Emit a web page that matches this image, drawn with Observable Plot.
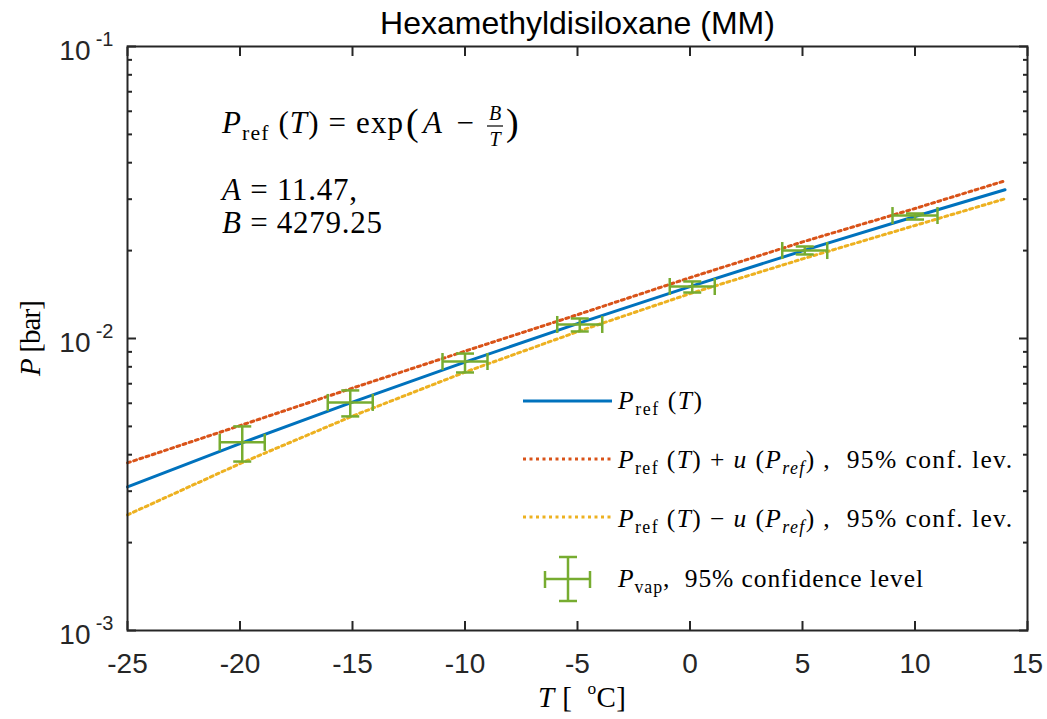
<!DOCTYPE html>
<html><head><meta charset="utf-8">
<script src="https://cdn.jsdelivr.net/npm/d3@7"></script>
<script src="https://cdn.jsdelivr.net/npm/@observablehq/plot@0.6"></script>
<style>body{margin:0;background:#fff}</style>
</head><body><div id="chart"></div>
<script>
const chartTitle = "Hexamethyldisiloxane (MM)";
const xTicks = [-25, -20, -15, -10, -5, 0, 5, 10, 15];
const yMajor = [0.001, 0.01, 0.1];
const yMinor = [0.002, 0.003, 0.004, 0.005, 0.006, 0.007, 0.008, 0.009,
                0.02, 0.03, 0.04, 0.05, 0.06, 0.07, 0.08, 0.09];
// model curves
const curveT = [-25, -20, -15, -10, -5, 0, 5, 10, 14];
const pRef   = [0.003104, 0.004366, 0.006057, 0.008299, 0.011239, 0.015051, 0.019947, 0.026174, 0.032306];
const pUpper = [0.003750, 0.005032, 0.006764, 0.009050, 0.012065, 0.016157, 0.021413, 0.027878, 0.034681];
const pLower = [0.002489, 0.003729, 0.005424, 0.007670, 0.010552, 0.014243, 0.018728, 0.024381, 0.030093];
// measured vapour pressures with 95% confidence intervals
const measT   = [-19.9, -15.1, -10.0, -4.9, 0.1, 5.1, 10.0];
const measTerr = [1, 1, 1, 1, 1, 1, 1];
const measP   = [0.00441, 0.00604, 0.00834, 0.01117, 0.01507, 0.02001, 0.02637];
const measPhi = [0.00500, 0.00664, 0.00888, 0.01171, 0.01568, 0.02066, 0.02680];
const measPlo = [0.00379, 0.00541, 0.00765, 0.01057, 0.01437, 0.01940, 0.02555];

const BLUE = "#0072BD", RED = "#D95319", YEL = "#EDB120", GRN = "#77AC30", AX = "#262626";
const SANS = "'Liberation Sans', Arial, sans-serif";
const SERIF = "'Liberation Serif', 'Times New Roman', serif";

const curve = curveT.map((t, i) => ({T: t, ref: pRef[i], up: pUpper[i], lo: pLower[i]}));
const meas = measT.map((t, i) => ({T: t, dT: measTerr[i], P: measP[i], hi: measPhi[i], lo: measPlo[i]}));

const hCap = {draw(ctx) { ctx.moveTo(-9, 0); ctx.lineTo(9, 0); }};
const vCap = {draw(ctx) { ctx.moveTo(0, -8.5); ctx.lineTo(0, 8.5); }};

const plot = Plot.plot({
  width: 1047, height: 719,
  marginTop: 46, marginBottom: 89, marginLeft: 127, marginRight: 20,
  style: {background: "#fff", fontFamily: SANS},
  x: {domain: [-25, 15], label: null},
  y: {type: "log", domain: [0.001, 0.1], label: null},
  marks: [
    Plot.line(curve, {x: "T", y: "ref", stroke: BLUE, strokeWidth: 3}),
    Plot.line(curve, {x: "T", y: "up", stroke: RED, strokeWidth: 3, strokeDasharray: "3 3.5"}),
    Plot.line(curve, {x: "T", y: "lo", stroke: YEL, strokeWidth: 3, strokeDasharray: "3 3.5"}),
    Plot.link(meas, {x1: "T", x2: "T", y1: "lo", y2: "hi", stroke: GRN, strokeWidth: 2.5}),
    Plot.link(meas, {x1: d => d.T - d.dT, x2: d => d.T + d.dT, y1: "P", y2: "P", stroke: GRN, strokeWidth: 2.5}),
    Plot.dot(meas, {x: "T", y: "hi", symbol: hCap, stroke: GRN, fill: "none", strokeWidth: 2.5}),
    Plot.dot(meas, {x: "T", y: "lo", symbol: hCap, stroke: GRN, fill: "none", strokeWidth: 2.5}),
    Plot.dot(meas, {x: d => d.T - d.dT, y: "P", symbol: vCap, stroke: GRN, fill: "none", strokeWidth: 2.5}),
    Plot.dot(meas, {x: d => d.T + d.dT, y: "P", symbol: vCap, stroke: GRN, fill: "none", strokeWidth: 2.5}),
    Plot.axisX(xTicks, {anchor: "bottom", tickSize: -9, tickFormat: () => "", label: null, stroke: AX, strokeWidth: 2}),
    Plot.axisX(xTicks, {anchor: "top", tickSize: -9, tickFormat: () => "", label: null, stroke: AX, strokeWidth: 2}),
    Plot.axisY(yMajor, {anchor: "left", tickSize: -9, tickFormat: () => "", label: null, stroke: AX, strokeWidth: 2}),
    Plot.axisY(yMajor, {anchor: "right", tickSize: -9, tickFormat: () => "", label: null, stroke: AX, strokeWidth: 2}),
    Plot.axisY(yMinor, {anchor: "left", tickSize: -5, tickFormat: () => "", label: null, stroke: AX, strokeWidth: 2}),
    Plot.axisY(yMinor, {anchor: "right", tickSize: -5, tickFormat: () => "", label: null, stroke: AX, strokeWidth: 2}),
    Plot.frame({stroke: AX, strokeWidth: 2}),
    Plot.text(xTicks, {x: d => d, frameAnchor: "bottom", lineAnchor: "middle", dy: 34, text: d => String(d), fontSize: 28, fill: AX, fontFamily: SANS}),
    Plot.text(yMajor, {y: d => d, frameAnchor: "left", lineAnchor: "middle", text: () => "10", textAnchor: "end", dx: -37, dy: 5, fontSize: 28, fill: AX, fontFamily: SANS}),
    Plot.text(yMajor, {y: d => d, frameAnchor: "left", lineAnchor: "middle", text: d => String(Math.round(Math.log10(d))), textAnchor: "end", dx: -14, dy: -7, fontSize: 20, fill: AX, fontFamily: SANS}),
    Plot.text([chartTitle], {frameAnchor: "top", lineAnchor: "middle", dy: -23, text: d => d, fontSize: 32, fill: "#000", fontFamily: SANS})
  ]
});
document.getElementById("chart").appendChild(plot);

const svg = d3.select(plot);
function rich(parent, x, y, runs, size, anchor = "start", len = null) {
  const t = parent.append("text").attr("x", x).attr("y", y)
    .attr("font-family", SERIF).attr("font-size", size).attr("text-anchor", anchor)
    .attr("fill", "#000").style("white-space", "pre");
  if (len) t.attr("textLength", len).attr("lengthAdjust", "spacing");
  let cur = 0;
  for (const r of runs) {
    const sh = (r.sh || 0) * size;
    const ts = t.append("tspan").text(r.t);
    if (r.i) ts.attr("font-style", "italic");
    if (r.s) ts.attr("font-size", r.s * size);
    const d = sh - cur;
    if (d) ts.attr("dy", d);
    cur = sh;
  }
  return t;
}
const g = svg.append("g");
const Pref = [{t: "P", i: true}, {t: "ref", s: 0.7, sh: 0.22}, {t: " (", sh: 0}, {t: "T", i: true}, {t: ")"}];
// formula
rich(g, 222, 133, [...Pref, {t: " = exp"}], 31, "start", 181);
rich(g, 406, 135, [{t: "("}], 38);
rich(g, 423, 133, [{t: "A", i: true}, {t: " \u2212"}], 31, "start", 51);
rich(g, 495, 120, [{t: "B", i: true}], 20, "middle");
rich(g, 495, 146, [{t: "T", i: true}], 20, "middle");
g.append("line").attr("x1", 487).attr("x2", 503).attr("y1", 126).attr("y2", 126).attr("stroke", "#000").attr("stroke-width", 1.2);
rich(g, 506, 135, [{t: ")"}], 38);
rich(g, 222, 200, [{t: "A", i: true}, {t: " = 11.47,"}], 31, "start", 135);
rich(g, 222, 233, [{t: "B", i: true}, {t: " = 4279.25"}], 31, "start", 160);

// legend
const L = 25.5;
const lrow = (y, color, dash) => g.append("line").attr("x1", 523).attr("x2", 612).attr("y1", y).attr("y2", y)
  .attr("stroke", color).attr("stroke-width", 3).attr("stroke-dasharray", dash || null);
lrow(401, BLUE);
rich(g, 618, 409, Pref, L, "start", 84);
lrow(459, RED, "3 3.5");
rich(g, 618, 468, [...Pref, {t: " + "}, {t: "u", i: true}, {t: " ("}, {t: "P", i: true}, {t: "ref", i: true, s: 0.7, sh: 0.22}, {t: ") ,  95% conf. lev.", sh: 0}], L, "start", 394);
lrow(517, YEL, "3 3.5");
rich(g, 618, 527, [...Pref, {t: " \u2212 "}, {t: "u", i: true}, {t: " ("}, {t: "P", i: true}, {t: "ref", i: true, s: 0.7, sh: 0.22}, {t: ") ,  95% conf. lev.", sh: 0}], L, "start", 394);
const eb = [[545, 579, 590, 579], [568, 557, 568, 601], [559, 557, 577, 557], [559, 601, 577, 601], [545, 571, 545, 588], [590, 571, 590, 588]];
for (const [a, b, c, d] of eb) g.append("line").attr("x1", a).attr("y1", b).attr("x2", c).attr("y2", d).attr("stroke", GRN).attr("stroke-width", 2.5);
rich(g, 618, 587, [{t: "P", i: true}, {t: "vap", s: 0.7, sh: 0.22}, {t: ",  95% confidence level", sh: 0}], L, "start", 305);

// axis labels
rich(g, 582, 707, [{t: "T", i: true}, {t: " [  "}, {t: "o", s: 0.6, sh: -0.45}, {t: "C]", sh: 0}], 29, "middle", 88);
const yl = rich(g, 0, 0, [{t: "P", i: true}, {t: " [bar]"}], 29, "middle", 76);
yl.attr("transform", "translate(40,338) rotate(-90)");
</script>
</body></html>
